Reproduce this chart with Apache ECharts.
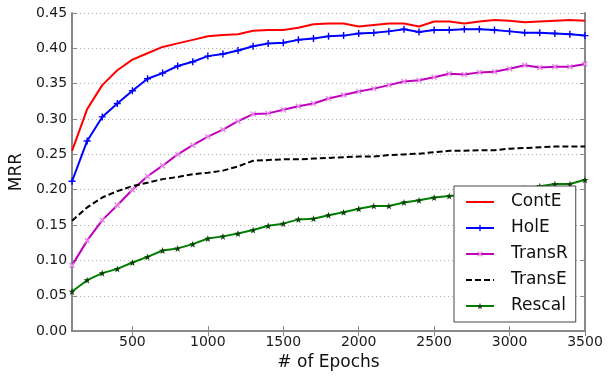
<!DOCTYPE html>
<html>
<head>
<meta charset="utf-8">
<script src="https://cdn.jsdelivr.net/npm/echarts@6/dist/echarts.min.js"></script>
<style>
  html, body { margin: 0; padding: 0; background: #fff; }
  #chart { width: 614px; height: 376px; }
</style>
</head>
<body>
<div id="chart"></div>
<script>
// x values (epochs)
const epochs = [100, 200, 300, 400, 500, 600, 700, 800, 900, 1000,
  1100, 1200, 1300, 1400, 1500, 1600, 1700, 1800, 1900, 2000,
  2100, 2200, 2300, 2400, 2500, 2600, 2700, 2800, 2900, 3000,
  3100, 3200, 3300, 3400, 3500]

const xTicks = [500, 1000, 1500, 2000, 2500, 3000, 3500]

// MRR per model
const contE = [0.255, 0.314, 0.348, 0.369, 0.384, 0.393, 0.402, 0.407, 0.412, 0.417,
  0.419, 0.420, 0.425, 0.426, 0.426, 0.429, 0.434, 0.435, 0.435, 0.431,
  0.433, 0.435, 0.435, 0.431, 0.438, 0.438, 0.435, 0.438, 0.440, 0.439,
  0.437, 0.438, 0.439, 0.440, 0.439]
const holE = [0.212, 0.269, 0.303, 0.322, 0.340, 0.357, 0.365, 0.375, 0.381, 0.389,
  0.392, 0.397, 0.403, 0.407, 0.408, 0.412, 0.414, 0.417, 0.418, 0.421,
  0.422, 0.424, 0.427, 0.423, 0.426, 0.426, 0.427, 0.427, 0.426, 0.424,
  0.422, 0.422, 0.421, 0.420, 0.418]
const transR = [0.093, 0.128, 0.157, 0.178, 0.200, 0.219, 0.234, 0.250, 0.263, 0.275,
  0.285, 0.297, 0.307, 0.308, 0.313, 0.318, 0.322, 0.329, 0.334, 0.339,
  0.343, 0.348, 0.353, 0.355, 0.359, 0.364, 0.363, 0.366, 0.367, 0.371,
  0.376, 0.373, 0.374, 0.374, 0.378]
const transE = [0.156, 0.175, 0.189, 0.198, 0.205, 0.210, 0.215, 0.218, 0.222, 0.224,
  0.227, 0.233, 0.241, 0.242, 0.243, 0.243, 0.244, 0.245, 0.246, 0.247,
  0.247, 0.249, 0.250, 0.251, 0.253, 0.255, 0.255, 0.256, 0.256, 0.258,
  0.259, 0.260, 0.261, 0.261, 0.261]
const rescal = [0.056, 0.072, 0.082, 0.088, 0.097, 0.105, 0.114, 0.117, 0.123, 0.131,
  0.134, 0.138, 0.143, 0.149, 0.152, 0.158, 0.159, 0.164, 0.168, 0.173,
  0.177, 0.177, 0.182, 0.185, 0.189, 0.191, 0.193, 0.195, 0.198, 0.200,
  0.202, 0.205, 0.208, 0.208, 0.214]

const pairs = vals => vals.map((v, i) => [epochs[i], v])

const PLUS = 'path://M4,0H6V4H10V6H6V10H4V6H0V4H4Z'
const STAR = 'path://M5,0L6.2,3.6L10,3.6L6.9,5.9L8.1,9.5L5,7.3L1.9,9.5L3.1,5.9L0,3.6L3.8,3.6Z'
const FONT = 'DejaVu Sans'
const frame = { show: true, lineStyle: { color: '#888', width: 2 } }

let chart = echarts.init(document.getElementById('chart'))
chart.setOption({
  backgroundColor: '#fff',
  animation: false,
  grid: { left: 72, right: 29, top: 13, bottom: 44.5 },
  legend: {
    orient: 'vertical',
    left: 454,
    top: 186,
    padding: [6, 8, 6, 11],
    itemWidth: 28,
    itemHeight: 8,
    itemGap: 6,
    backgroundColor: '#fff',
    borderColor: '#444',
    borderWidth: 1,
    textStyle: { fontFamily: FONT, fontSize: 17, color: '#111', lineHeight: 20, padding: [0, 0, 0, 12] },
    data: ['ContE', 'HolE', 'TransR', 'TransE', 'Rescal']
  },
  xAxis: [{
    type: 'value',
    position: 'bottom',
    min: 100,
    max: 3500,
    axisLine: frame,
    axisTick: { show: true, inside: true, length: 5, customValues: xTicks, lineStyle: { color: '#888' } },
    axisLabel: { customValues: xTicks, margin: 4, fontFamily: FONT, fontSize: 14, color: '#1a1a1a', formatter: v => String(v) },
    splitLine: { show: false },
    name: '# of Epochs',
    nameLocation: 'middle',
    nameGap: 14,
    nameTextStyle: { fontFamily: FONT, fontSize: 17, color: '#111' }
  }, {
    type: 'value',
    position: 'top',
    min: 100,
    max: 3500,
    axisLine: frame,
    axisTick: { show: true, inside: true, length: 5, customValues: xTicks, lineStyle: { color: '#888' } },
    axisLabel: { show: false },
    splitLine: { show: false }
  }],
  yAxis: [{
    type: 'value',
    position: 'left',
    min: 0,
    max: 0.45,
    interval: 0.05,
    axisLine: frame,
    axisTick: { show: true, inside: true, length: 5, lineStyle: { color: '#888' } },
    axisLabel: { margin: 5, fontFamily: FONT, fontSize: 14, color: '#1a1a1a', formatter: v => v.toFixed(2) },
    splitLine: { show: true, lineStyle: { color: '#aaa', width: 1, type: [1, 3] } },
    name: 'MRR',
    nameLocation: 'middle',
    nameGap: 40,
    nameTextStyle: { fontFamily: FONT, fontSize: 17, color: '#111' }
  }, {
    type: 'value',
    position: 'right',
    min: 0,
    max: 0.45,
    interval: 0.05,
    axisLine: frame,
    axisTick: { show: true, inside: true, length: 5, lineStyle: { color: '#888' } },
    axisLabel: { show: false },
    splitLine: { show: false }
  }],
  series: [{
    name: 'ContE',
    type: 'line',
    data: pairs(contE),
    symbol: 'circle',
    showSymbol: false,
    color: '#ff0000',
    itemStyle: { opacity: 0 },
    lineStyle: { width: 2, color: '#ff0000' }
  }, {
    name: 'HolE',
    type: 'line',
    data: pairs(holE),
    symbol: PLUS,
    symbolSize: 7,
    color: '#0000ff',
    lineStyle: { width: 2 }
  }, {
    name: 'TransR',
    type: 'line',
    data: pairs(transR),
    symbol: PLUS,
    symbolRotate: 45,
    symbolSize: 7,
    color: '#bf00bf',
    itemStyle: { color: '#e58ae5' },
    lineStyle: { width: 2, color: '#bf00bf' }
  }, {
    name: 'TransE',
    type: 'line',
    data: pairs(transE),
    symbol: 'circle',
    showSymbol: false,
    color: '#000',
    itemStyle: { opacity: 0 },
    lineStyle: { width: 2, type: [6, 3], color: '#000' }
  }, {
    name: 'Rescal',
    type: 'line',
    data: pairs(rescal),
    symbol: STAR,
    symbolSize: 7,
    color: '#008000',
    itemStyle: { color: '#0b3d0b' },
    lineStyle: { width: 2, color: '#008000' }
  }]
})
</script>
</body>
</html>
